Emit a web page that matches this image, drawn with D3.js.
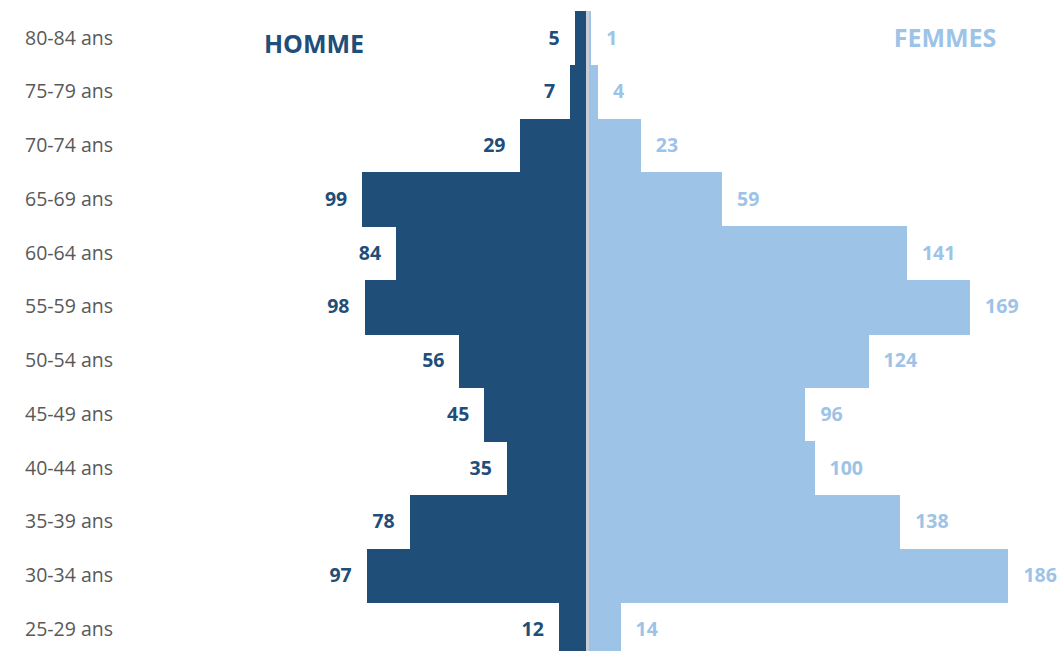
<!DOCTYPE html>
<html>
<head>
<meta charset="utf-8">
<script src="https://cdn.jsdelivr.net/npm/d3@7"></script>
<style>
  body { margin: 0; background: #fff; }
  svg { display: block; font-family: "Open Sans", sans-serif; }
</style>
</head>
<body>
<script>
// tranches d'age, du haut vers le bas
var ageGroups = ["80-84 ans", "75-79 ans", "70-74 ans", "65-69 ans", "60-64 ans", "55-59 ans",
                 "50-54 ans", "45-49 ans", "40-44 ans", "35-39 ans", "30-34 ans", "25-29 ans"];
var hommes = [5, 7, 29, 99, 84, 98, 56, 45, 35, 78, 97, 12];
var femmes = [1, 4, 23, 59, 141, 169, 124, 96, 100, 138, 186, 14];

var width = 1060, height = 651;
var darkBlue = "#1F4E79", lightBlue = "#9DC3E6";

var svg = d3.select("body").append("svg")
    .attr("width", width)
    .attr("height", height);

var y = d3.scaleBand()
    .domain(ageGroups)
    .range([11, 11 + 12 * 53.75])
    .padding(0);

var xH = d3.scaleLinear().domain([0, 100]).range([586, 586 - 226]);
var xF = d3.scaleLinear().domain([0, 200]).range([589, 589 + 200 * 2.255]);

var rows = ageGroups.map(function(a, i) { return { age: a, h: hommes[i], f: femmes[i] }; });

// barres hommes
svg.selectAll("rect.h")
    .data(rows)
    .enter().append("rect")
    .attr("class", "h")
    .attr("x", function(d) { return xH(d.h); })
    .attr("y", function(d) { return y(d.age); })
    .attr("width", function(d) { return xH(0) - xH(d.h); })
    .attr("height", y.bandwidth() + 1)
    .attr("shape-rendering", "crispEdges")
    .attr("fill", darkBlue);

// barres femmes
svg.selectAll("rect.f")
    .data(rows)
    .enter().append("rect")
    .attr("class", "f")
    .attr("x", xF(0))
    .attr("y", function(d) { return y(d.age); })
    .attr("width", function(d) { return xF(d.f) - xF(0); })
    .attr("height", y.bandwidth() + 1)
    .attr("shape-rendering", "crispEdges")
    .attr("fill", lightBlue);

// separateur central
svg.append("line")
    .attr("x1", 587.5).attr("x2", 587.5)
    .attr("y1", y.range()[0]).attr("y2", height)
    .attr("stroke", "#c9ced6")
    .attr("stroke-width", 3);

// etiquettes d'age
svg.selectAll("text.age")
    .data(rows)
    .enter().append("text")
    .attr("class", "age")
    .attr("x", 25)
    .attr("y", function(d) { return y(d.age) + y.bandwidth() / 2; })
    .attr("dy", "0.35em")
    .attr("font-size", "19.5px")
    .attr("fill", "#595959")
    .text(function(d) { return d.age; });

// valeurs hommes
svg.selectAll("text.vh")
    .data(rows)
    .enter().append("text")
    .attr("class", "vh")
    .attr("x", function(d) { return xH(d.h) - 15; })
    .attr("y", function(d) { return y(d.age) + y.bandwidth() / 2; })
    .attr("dy", "0.35em")
    .attr("text-anchor", "end")
    .attr("font-size", "19.5px")
    .attr("font-weight", "bold")
    .attr("fill", darkBlue)
    .text(function(d) { return d.h; });

// valeurs femmes
svg.selectAll("text.vf")
    .data(rows)
    .enter().append("text")
    .attr("class", "vf")
    .attr("x", function(d) { return xF(d.f) + 15; })
    .attr("y", function(d) { return y(d.age) + y.bandwidth() / 2; })
    .attr("dy", "0.35em")
    .attr("font-size", "19.5px")
    .attr("font-weight", "bold")
    .attr("fill", lightBlue)
    .text(function(d) { return d.f; });

// titres
svg.append("text")
    .attr("x", 314).attr("y", 53)
    .attr("text-anchor", "middle")
    .attr("font-size", "25px")
    .attr("font-weight", "bold")
    .attr("fill", darkBlue)
    .text("HOMME");

svg.append("text")
    .attr("x", 945).attr("y", 47)
    .attr("text-anchor", "middle")
    .attr("font-size", "25px")
    .attr("font-weight", "bold")
    .attr("fill", lightBlue)
    .text("FEMMES");
</script>
</body>
</html>
